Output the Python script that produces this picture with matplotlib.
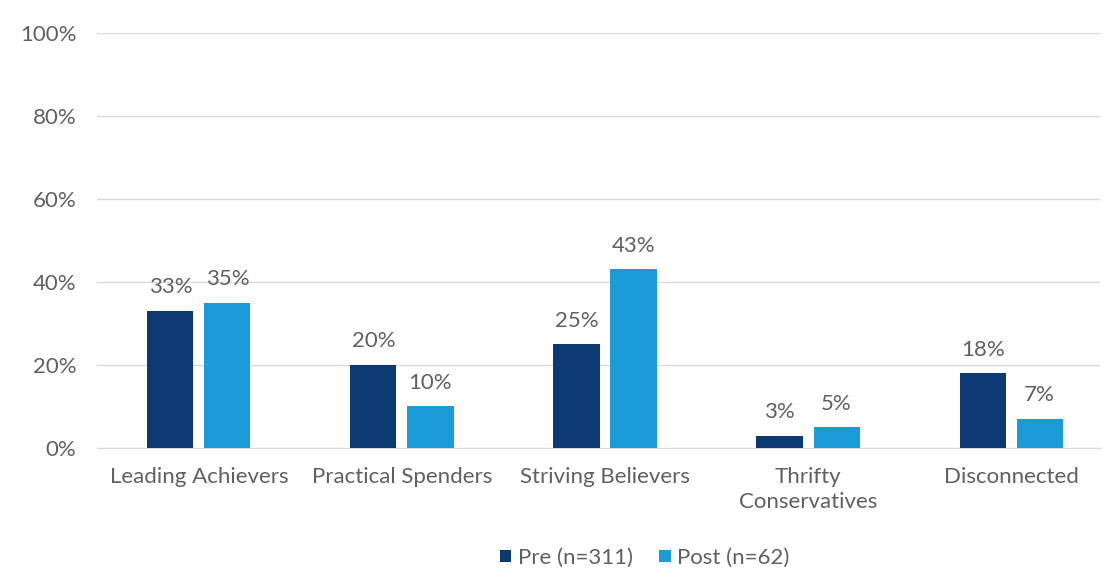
import matplotlib.pyplot as plt
import numpy as np

categories = ['Leading Achievers', 'Practical Spenders', 'Striving Believers',
              'Thrifty\nConservatives', 'Disconnected']
pre = [33, 20, 25, 3, 18]
post = [35, 10, 43, 5, 7]
series_names = ['Pre (n=311)', 'Post (n=62)']

plt.rcParams['font.family'] = ['Lato', 'DejaVu Sans']
gray = '#606060'

fig = plt.figure(figsize=(11.06, 5.86), dpi=100)
ax = fig.add_axes([0.088, 0.2355, 0.907, 0.7085])

x = np.arange(len(categories))
w = 0.227
b1 = ax.bar(x - w / 2 - 0.027, pre, w, color='#0B3A73', label=series_names[0], zorder=3)
b2 = ax.bar(x + w / 2 + 0.027, post, w, color='#1B9BD7', label=series_names[1], zorder=3)

for bars, vals in ((b1, pre), (b2, post)):
    for r, v in zip(bars, vals):
        ax.text(r.get_x() + r.get_width() / 2, v + 3.3, f'{v}%', ha='center', va='bottom',
                fontsize=16, color=gray)

ax.set_ylim(0, 100)
ax.set_xlim(-0.5, 4.44)
ax.set_yticks(range(0, 101, 20))
ax.set_yticklabels([f'{t}%' for t in range(0, 101, 20)])
ax.set_xticks(x)
ax.set_xticklabels(categories, linespacing=1.3)
ax.tick_params(axis='both', length=0, labelsize=16, labelcolor=gray)
ax.tick_params(axis='y', pad=15)
ax.tick_params(axis='x', pad=14)
ax.grid(axis='y', color='#D9D9D9', linewidth=1, zorder=0)
for s in ['top', 'right', 'left']:
    ax.spines[s].set_visible(False)
ax.spines['bottom'].set_color('#D9D9D9')

fig.legend(loc='center', bbox_to_anchor=(0.583, 0.048), ncol=2, frameon=False,
           fontsize=16, labelcolor=gray, handlelength=0.5, handleheight=0.5,
           handletextpad=0.3, columnspacing=1.2)

plt.savefig('out.png')
